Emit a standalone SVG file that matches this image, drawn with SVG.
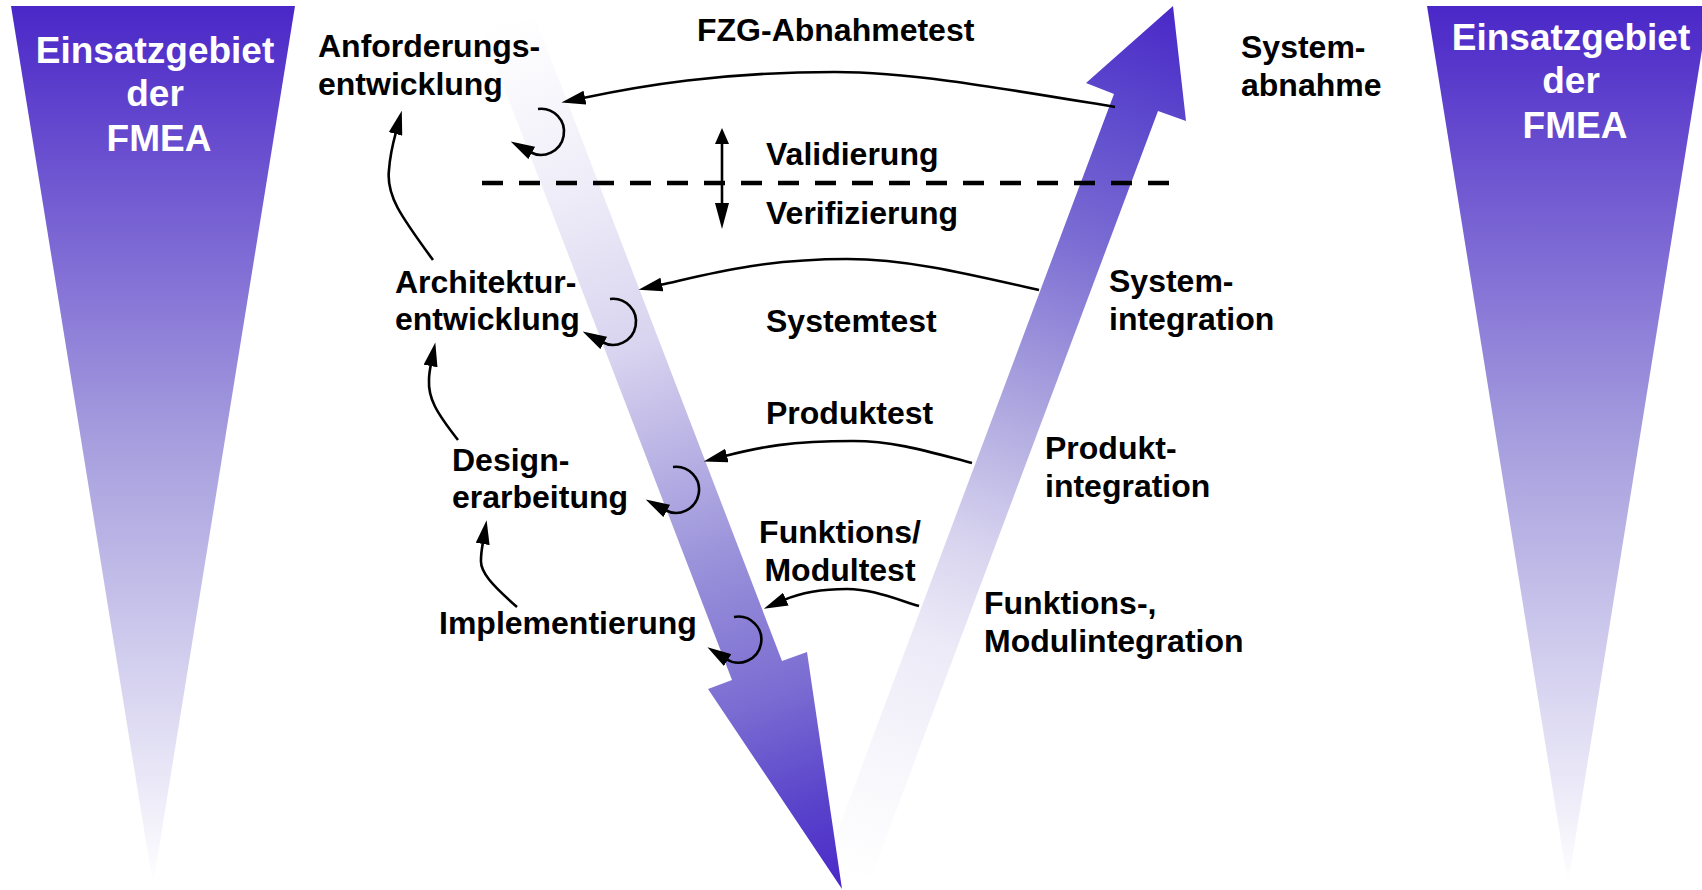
<svg xmlns="http://www.w3.org/2000/svg" width="1702" height="890" viewBox="0 0 1702 890">
<defs>
<style>
.lbl{font-family:"Liberation Sans",Arial,sans-serif;font-weight:bold;font-size:32px;fill:#000}
.fm{font-family:"Liberation Sans",Arial,sans-serif;font-weight:bold;font-size:37px;fill:#fff;text-anchor:middle}
.con{fill:none;stroke:#000;stroke-width:2.6}
</style>
<linearGradient id="triGrad" x1="0" y1="0" x2="0" y2="1">
<stop offset="0" stop-color="#4a27c8"/>
<stop offset="0.5" stop-color="#a79fde"/>
<stop offset="1" stop-color="#ffffff"/>
</linearGradient>
<linearGradient id="downGrad" gradientUnits="userSpaceOnUse" x1="507" y1="20" x2="842" y2="889">
<stop offset="0" stop-color="#ffffff"/>
<stop offset="0.09" stop-color="#f8f7fc"/>
<stop offset="0.2" stop-color="#eeecf8"/>
<stop offset="0.38" stop-color="#d8d3ef"/>
<stop offset="0.62" stop-color="#9a92da"/>
<stop offset="0.78" stop-color="#7a6cd2"/>
<stop offset="0.9" stop-color="#5a44cb"/>
<stop offset="1" stop-color="#4a28c8"/>
</linearGradient>
<linearGradient id="upGrad" gradientUnits="userSpaceOnUse" x1="845" y1="875" x2="1173" y2="6">
<stop offset="0" stop-color="#ffffff"/>
<stop offset="0.1" stop-color="#f9f9fd"/>
<stop offset="0.27" stop-color="#eceaf7"/>
<stop offset="0.38" stop-color="#d8d4ef"/>
<stop offset="0.55" stop-color="#aaa3de"/>
<stop offset="0.73" stop-color="#7a6cd3"/>
<stop offset="0.89" stop-color="#5a45cc"/>
<stop offset="1" stop-color="#4a28c8"/>
</linearGradient>
<marker id="ah" markerUnits="userSpaceOnUse" markerWidth="24" markerHeight="14" viewBox="0 0 24 14" refX="2" refY="7" orient="auto">
<path d="M0,0 L24,7 L0,14 z" fill="#000"/>
</marker>
</defs>

<g id="fmea-left">
<polygon points="11,6 295,6 153,885" fill="url(#triGrad)"/>
<text class="fm" x="155" y="63">Einsatzgebiet</text>
<text class="fm" x="155" y="106">der</text>
<text class="fm" x="159" y="151">FMEA</text>
</g>

<g id="fmea-right">
<polygon points="1427,6 1709,6 1568,885" fill="url(#triGrad)"/>
<text class="fm" x="1571" y="50">Einsatzgebiet</text>
<text class="fm" x="1571" y="93">der</text>
<text class="fm" x="1575" y="138">FMEA</text>
</g>

<g id="up-arrow">
<polygon points="1173,6 1186,121 1158,111 872,875 821,875 1114,94 1086,83" fill="url(#upGrad)"/>
</g>

<g id="down-arrow">
<polygon points="478,20 536,20 782,661 807,652 842,889 708,689 732,680" fill="url(#downGrad)"/>
</g>

<g id="boundary">
<line x1="482" y1="183" x2="1176" y2="183" stroke="#000" stroke-width="4.5" stroke-dasharray="21 16"/>
<line x1="722" y1="140" x2="722" y2="206" stroke="#000" stroke-width="2.6"/>
<polygon points="722,128 715,144 729,144" fill="#000"/>
<polygon points="722,229 715,203 729,203" fill="#000"/>
</g>

<g id="connectors">
<path class="con" marker-end="url(#ah)" d="M1115,107 C1000,88 910,72 835,72 C720,72 640,86 583,98"/>
<path class="con" marker-end="url(#ah)" d="M1039,290 C960,272 905,259 847,259 C760,259 705,275 660,285"/>
<path class="con" marker-end="url(#ah)" d="M972,463 C930,452 895,441 853,441 C790,441 760,447 725,456"/>
<path class="con" marker-end="url(#ah)" d="M919,606 C890,597 870,589 847,589 C820,589 800,593 784,600"/>
<path class="con" marker-end="url(#ah)" d="M433,260 C400,215 386,195 389,170 C390,155 393,143 396,132"/>
<path class="con" marker-end="url(#ah)" d="M458,440 C436,412 428,398 429,380 C429,374 430,369 431,364"/>
<path class="con" marker-end="url(#ah)" d="M517,607 C492,585 480,572 481,560 C481,553 482,548 483,542"/>
<path class="con" marker-end="url(#ah)" d="M538,109 A23,23 0 1,1 530,152"/>
<path class="con" marker-end="url(#ah)" d="M610,299 A23,23 0 1,1 602,342"/>
<path class="con" marker-end="url(#ah)" d="M673,467 A23,23 0 1,1 665,510"/>
<path class="con" marker-end="url(#ah)" d="M734,617 A23,23 0 1,1 726,659"/>
</g>

<g id="anforderung">
<text class="lbl" x="318" y="57">Anforderungs-</text>
<text class="lbl" x="318" y="95">entwicklung</text>
</g>
<g id="architektur">
<text class="lbl" x="395" y="293">Architektur-</text>
<text class="lbl" x="395" y="330">entwicklung</text>
</g>
<g id="design">
<text class="lbl" x="452" y="471">Design-</text>
<text class="lbl" x="452" y="508">erarbeitung</text>
</g>
<g id="implementierung">
<text class="lbl" x="439" y="634">Implementierung</text>
</g>
<g id="fzg-abnahmetest">
<text class="lbl" x="697" y="41">FZG-Abnahmetest</text>
</g>
<g id="validierung">
<text class="lbl" x="766" y="165">Validierung</text>
</g>
<g id="verifizierung">
<text class="lbl" x="766" y="224">Verifizierung</text>
</g>
<g id="systemtest">
<text class="lbl" x="766" y="332">Systemtest</text>
</g>
<g id="produktest">
<text class="lbl" x="766" y="424">Produktest</text>
</g>
<g id="modultest">
<text class="lbl" x="840" y="543" text-anchor="middle">Funktions/</text>
<text class="lbl" x="840" y="581" text-anchor="middle">Modultest</text>
</g>
<g id="systemabnahme">
<text class="lbl" x="1241" y="58">System-</text>
<text class="lbl" x="1241" y="96">abnahme</text>
</g>
<g id="systemintegration">
<text class="lbl" x="1109" y="292">System-</text>
<text class="lbl" x="1109" y="330">integration</text>
</g>
<g id="produktintegration">
<text class="lbl" x="1045" y="459">Produkt-</text>
<text class="lbl" x="1045" y="497">integration</text>
</g>
<g id="modulintegration">
<text class="lbl" x="984" y="614">Funktions-,</text>
<text class="lbl" x="984" y="652">Modulintegration</text>
</g>
</svg>
